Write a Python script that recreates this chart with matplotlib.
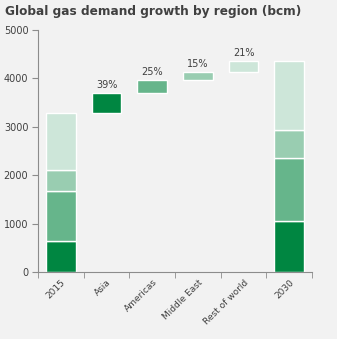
import numpy as np
import matplotlib.pyplot as plt

categories = ['2015', 'Asia', 'Americas', 'Middle East', 'Rest of world', '2030']
regions = ['Asia', 'Americas', 'Middle East', 'Rest of world']
demand_2015 = [640, 1030, 430, 1185]
growth = [415, 266, 160, 224]
colors = ['#008641', '#66b58b', '#99cdb1', '#cde6d9']

demand_2030 = [a + g for a, g in zip(demand_2015, growth)]
share = [g / sum(growth) * 100 for g in growth]

bg = '#f2f2f2'
txt = '#404040'
axcol = '#8c8c8c'

fig = plt.figure(figsize=(3.37, 3.39), dpi=100, facecolor=bg)
ax = fig.add_axes([0.113, 0.197, 0.813, 0.715], facecolor=bg)

w = 0.65
# stacked totals at both ends
for xi, vals in [(0, demand_2015), (5, demand_2030)]:
    bottom = 0
    for v, c in zip(vals, colors):
        ax.bar(xi, v, w, bottom=bottom, color=c, edgecolor='white', linewidth=1)
        bottom += v

# floating increments by region
base = sum(demand_2015)
for i, (g, c, s) in enumerate(zip(growth, colors, share)):
    ax.bar(i + 1, g, w, bottom=base, color=c, edgecolor='white', linewidth=1)
    ax.text(i + 1, base + g + 60, f'{s:.0f}%', ha='center', va='bottom',
            fontsize=7, color=txt)
    base += g

ax.set_xlim(-0.5, 5.5)
ax.set_ylim(0, 5000)
ax.set_yticks(np.arange(0, 5001, 1000))
ax.set_xticks(np.arange(6))
ax.set_xticklabels(categories, rotation=45, ha='right', rotation_mode='anchor',
                   fontsize=6.5, color=txt)
ax.set_xticks(np.arange(-0.5, 6, 1), minor=True)
ax.tick_params(axis='x', which='major', length=0, pad=4)
ax.tick_params(axis='x', which='minor', length=4, color=axcol, direction='out')
ax.tick_params(axis='y', length=4, color=axcol, labelsize=7, labelcolor=txt, pad=3)

for side in ['top', 'right']:
    ax.spines[side].set_visible(False)
for side in ['left', 'bottom']:
    ax.spines[side].set_color(axcol)
    ax.spines[side].set_linewidth(0.8)

fig.text(0.015, 0.965, 'Global gas demand growth by region (bcm)', fontsize=8.7,
         fontweight='bold', color=txt, va='center', ha='left')

fig.savefig('out.png', dpi=100, facecolor=bg)
